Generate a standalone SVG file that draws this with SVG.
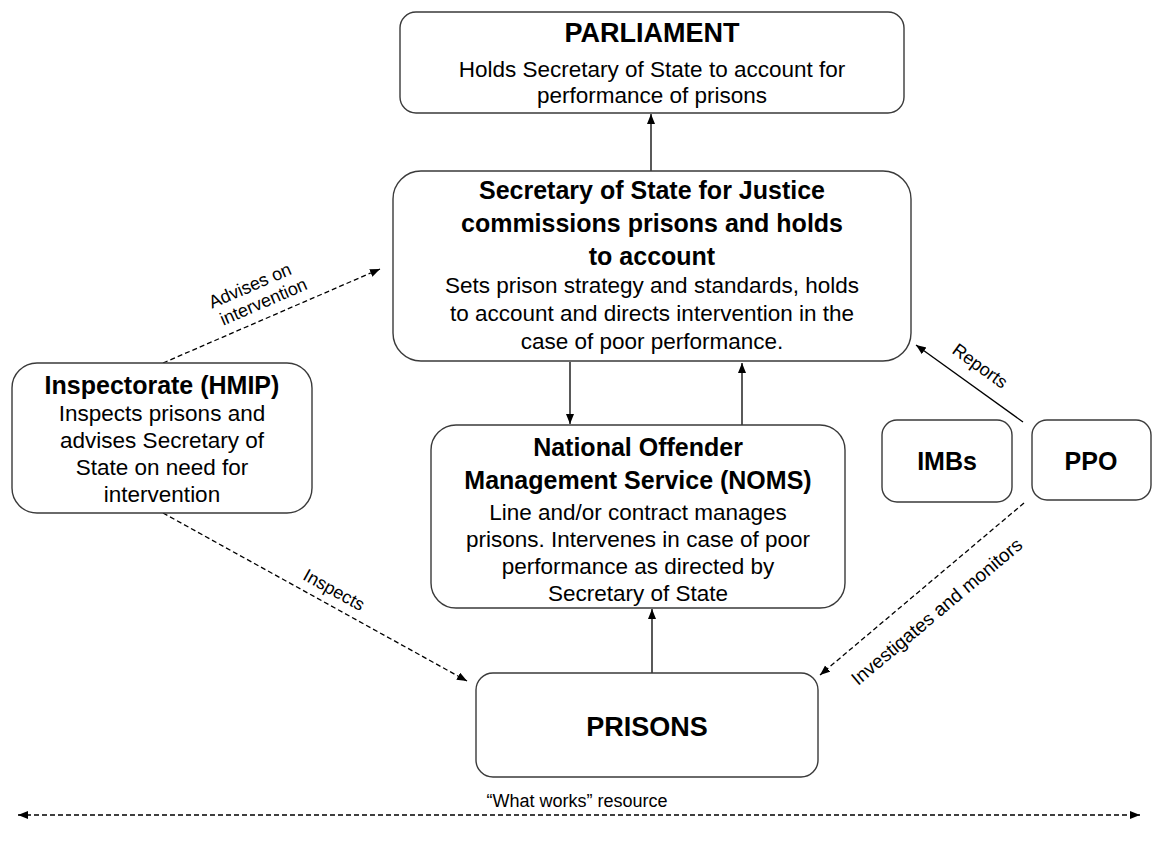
<svg xmlns="http://www.w3.org/2000/svg" width="1153" height="848" viewBox="0 0 1153 848">
<style>
.box{fill:#fff;stroke:#3a3a3a;stroke-width:1.4}
.t{font-family:"Liberation Sans",Arial,sans-serif;text-anchor:middle;fill:#000}
.h{font-weight:bold;font-size:25px}
.b{font-size:22.5px}
.l{font-size:18px}
.ln{stroke:#000;stroke-width:1.3;fill:none}
.d{stroke-dasharray:5,3}
</style>
<defs>
<marker id="ah" markerUnits="userSpaceOnUse" markerWidth="12" markerHeight="10" refX="10" refY="4" orient="auto-start-reverse">
<path d="M0,0 L10,4 L0,8 z" fill="#000"/>
</marker>
</defs>
<rect width="1153" height="848" fill="#fff"/>

<g id="connectors">
<line class="ln" x1="651" y1="171" x2="651" y2="114" marker-end="url(#ah)"/>
<line class="ln" x1="570" y1="362" x2="570" y2="424" marker-end="url(#ah)"/>
<line class="ln" x1="742" y1="425" x2="742" y2="363" marker-end="url(#ah)"/>
<line class="ln" x1="652" y1="673" x2="652" y2="609" marker-end="url(#ah)"/>
<line class="ln" x1="1023" y1="422" x2="916" y2="345" marker-end="url(#ah)"/>
<line class="ln d" x1="1024" y1="503" x2="820" y2="675" marker-end="url(#ah)"/>
<line class="ln d" x1="163" y1="363" x2="380" y2="269" marker-end="url(#ah)"/>
<line class="ln d" x1="163" y1="513" x2="467" y2="681" marker-end="url(#ah)"/>
<line class="ln d" x1="18" y1="815" x2="1140" y2="815" marker-start="url(#ah)" marker-end="url(#ah)"/>
<text class="t l" transform="translate(254,295) rotate(-23.4)"><tspan x="0" y="-4">Advises on</tspan><tspan x="6" y="16">intervention</tspan></text>
<text class="t l" transform="translate(334,590) rotate(28.9)" y="6">Inspects</text>
<text class="t l" transform="translate(980,366) rotate(35.8)" y="6">Reports</text>
<text class="t l" transform="translate(937,612) rotate(-40)" y="6" style="font-size:19px">Investigates  and monitors</text>
<text class="t l" x="577" y="807">“What works”  resource</text>
</g>

<g id="parliament">
<rect class="box" x="400" y="12" width="504" height="101" rx="16"/>
<text class="t h" x="652" y="42" style="font-size:27px">PARLIAMENT</text>
<text class="t b" x="652" y="77">Holds Secretary of State to account for</text>
<text class="t b" x="652" y="103">performance of prisons</text>
</g>

<g id="sos">
<rect class="box" x="393" y="171" width="518" height="190" rx="28"/>
<text class="t h" x="652" y="199">Secretary of State for Justice</text>
<text class="t h" x="652" y="232">commissions prisons and holds</text>
<text class="t h" x="652" y="265">to account</text>
<text class="t b" x="652" y="293">Sets prison strategy and standards, holds</text>
<text class="t b" x="652" y="321">to account and directs intervention in the</text>
<text class="t b" x="652" y="349">case of poor performance.</text>
</g>

<g id="hmip">
<rect class="box" x="12" y="363" width="300" height="150" rx="25"/>
<text class="t h" x="162" y="394">Inspectorate (HMIP)</text>
<text class="t b" x="162" y="421">Inspects prisons and</text>
<text class="t b" x="162" y="448">advises Secretary of</text>
<text class="t b" x="162" y="475">State on need for</text>
<text class="t b" x="162" y="502">intervention</text>
</g>

<g id="noms">
<rect class="box" x="431" y="425" width="414" height="183" rx="25"/>
<text class="t h" x="638" y="456">National Offender</text>
<text class="t h" x="638" y="489">Management Service (NOMS)</text>
<text class="t b" x="638" y="520">Line and/or contract manages</text>
<text class="t b" x="638" y="547">prisons.  Intervenes in case of poor</text>
<text class="t b" x="638" y="574">performance as directed by</text>
<text class="t b" x="638" y="601">Secretary of State</text>
</g>

<g id="prisons">
<rect class="box" x="476" y="673" width="342" height="104" rx="17"/>
<text class="t h" x="647" y="736" style="font-size:27px">PRISONS</text>
</g>

<g id="imbs">
<rect class="box" x="882" y="420" width="130" height="82" rx="15"/>
<text class="t h" x="947" y="470">IMBs</text>
</g>

<g id="ppo">
<rect class="box" x="1032" y="420" width="119" height="80" rx="15"/>
<text class="t h" x="1091" y="470">PPO</text>
</g>
</svg>
